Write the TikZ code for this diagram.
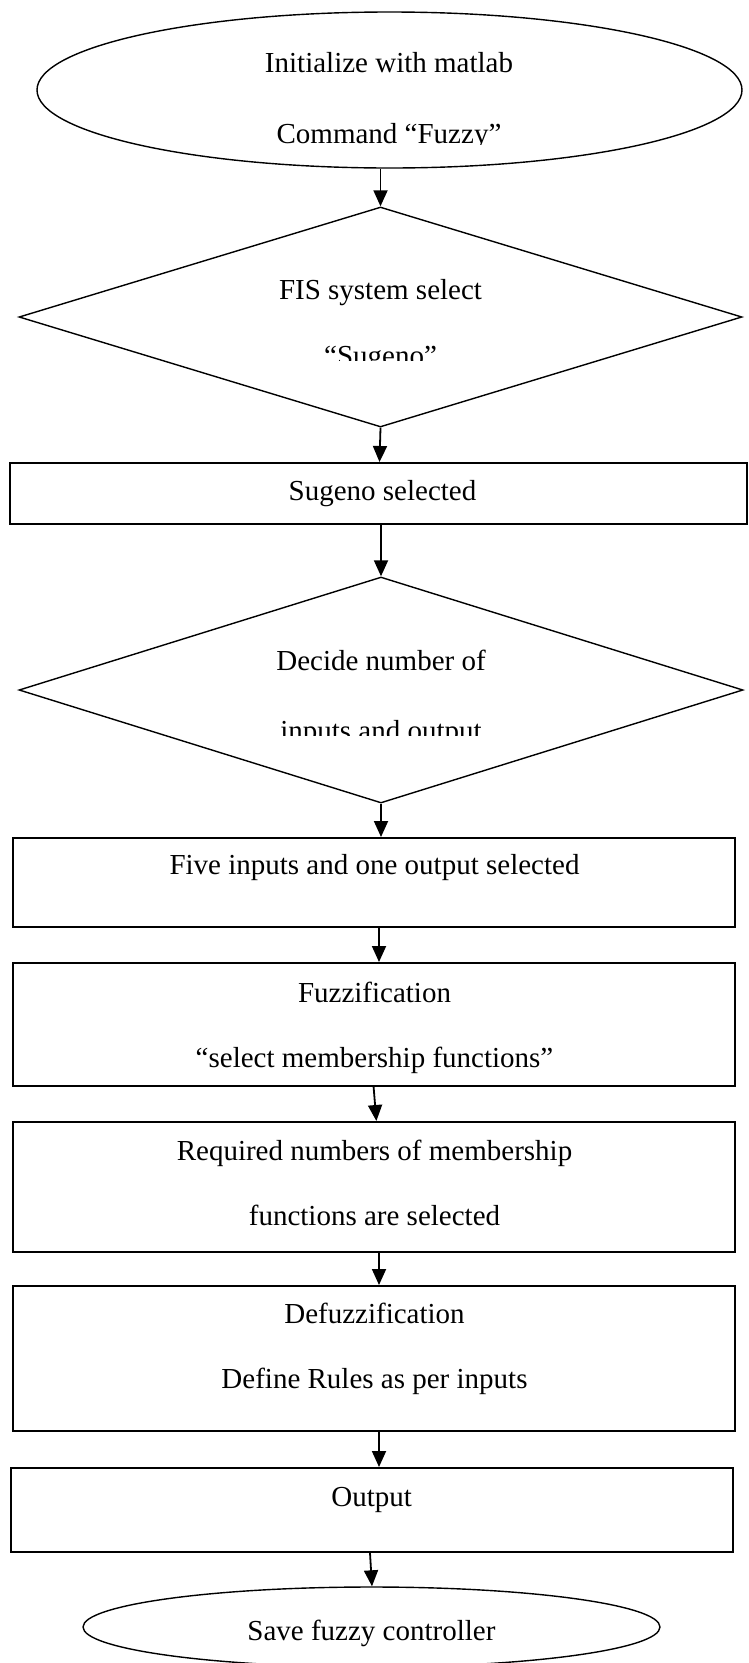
\documentclass[tikz,border=0pt]{standalone}
\usepackage{fontspec}
\setmainfont{Liberation Serif}
\usetikzlibrary{shapes.geometric,arrows.meta}

\tikzset{
  termbox/.style={draw=black, line width=1.4pt, ellipse, inner sep=0pt},
  decbox/.style={draw=black, line width=1.4pt, diamond, inner sep=0pt},
  procbox/.style={draw=black, line width=2pt, rectangle, inner sep=0pt},
  txt/.style={anchor=base, inner sep=0pt, font=\fontsize{29}{35}\selectfont},
  arr/.style={draw=black, line width=1.8pt, -{Triangle[length=16pt,width=14pt]}}
}

\begin{document}
\begin{tikzpicture}[x=1pt, y=-1pt]
  \useasboundingbox (0,0) rectangle (748,1663);
  \clip (0,0) rectangle (748,1663);
  \fill[white] (0,0) rectangle (748,1663);

  % shapes of the flow chart
  \node[termbox, minimum width=705pt, minimum height=156pt] (start) at (389.5,90) {};
  \node[decbox, minimum width=723pt, minimum height=220pt] (fis) at (380.5,317) {};
  \node[procbox, minimum width=737pt, minimum height=61pt] (sug) at (378.5,493.5) {};
  \node[decbox, minimum width=724pt, minimum height=226pt] (num) at (381,690) {};
  \node[procbox, minimum width=722pt, minimum height=89pt] (five) at (374,882.5) {};
  \node[procbox, minimum width=722pt, minimum height=123pt] (fuzz) at (374,1024.5) {};
  \node[procbox, minimum width=722pt, minimum height=130pt] (req) at (374,1187) {};
  \node[procbox, minimum width=722pt, minimum height=145pt] (defuzz) at (374,1358.5) {};
  \node[procbox, minimum width=722.5pt, minimum height=84pt] (outp) at (371.75,1510) {};
  \node[termbox, minimum width=577pt, minimum height=80pt] (save) at (371.5,1627) {};

  % texts (some lines are cut at their lower edge)
  \node[txt] (startA) at (389,72) {Initialize with matlab};
  \begin{scope}
    \clip (0,110) rectangle (748,144.5);
    \node[txt] (startB) at (389,143) {Command “Fuzzy”};
  \end{scope}
  \node[txt] (fisA) at (380.5,299) {FIS system select};
  \begin{scope}
    \clip (0,330) rectangle (748,360);
    \node[txt] (fisB) at (380.5,365) {“Sugeno”};
  \end{scope}
  \node[txt] (sugA) at (382.5,500) {Sugeno selected};
  \node[txt] (numA) at (381,670) {Decide number of};
  \begin{scope}
    \clip (0,700) rectangle (748,735);
    \node[txt] (numB) at (381,740) {inputs and output};
  \end{scope}
  \node[txt] (fiveA) at (374.5,874) {Five inputs and one output selected};
  \node[txt] (fuzzA) at (374.5,1002) {Fuzzification};
  \node[txt] (fuzzB) at (374.5,1067) {“select membership functions”};
  \node[txt] (reqA) at (374.5,1160) {Required numbers of membership};
  \node[txt] (reqB) at (374.5,1225) {functions are selected};
  \node[txt] (defA) at (374.5,1323) {Defuzzification};
  \node[txt] (defB) at (374.5,1388) {Define Rules as per inputs};
  \node[txt] (outA) at (371.6,1506) {Output};
  \node[txt] (saveA) at (371.4,1640) {Save fuzzy controller};

  % connectors
  \draw[arr] (fis.north |- start.south) -- (fis.north);
  \draw[arr] (fis.south) -- ([xshift=-1pt]fis.south |- sug.north);
  \draw[arr] (num.north |- sug.south) -- (num.north);
  \draw[arr] (num.south) -- (num.south |- five.north);
  \draw[arr] ([xshift=5pt]five.south) -- ([xshift=5pt]fuzz.north);
  \draw[arr] ([xshift=-0.4pt]fuzz.south) -- ([xshift=2.4pt]req.north);
  \draw[arr] ([xshift=5pt]req.south) -- ([xshift=5pt]defuzz.north);
  \draw[arr] ([xshift=5pt]defuzz.south) -- ([xshift=7.25pt]outp.north);
  \draw[arr] ([xshift=-1.75pt]outp.south) -- ([xshift=0.5pt]save.north);
\end{tikzpicture}
\end{document}
